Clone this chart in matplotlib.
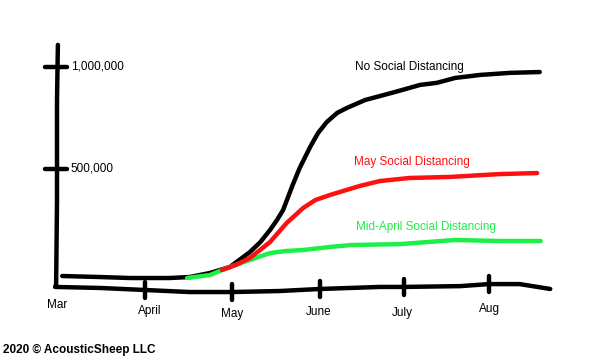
import numpy as np
import matplotlib
matplotlib.use("Agg")
import matplotlib.pyplot as plt

plt.rcParams['font.family'] = ['Liberation Sans', 'DejaVu Sans']

# --- data (x in months after 1 Mar, y in cases) ---
no_sd_x = [0.06, 0.49, 0.84, 1.29, 1.52, 1.75, 1.98, 2.21, 2.33, 2.44, 2.52, 2.59,
           2.70, 2.78, 2.90, 2.99, 3.09, 3.21, 3.32, 3.53, 3.87, 4.16, 4.35,
           4.56, 4.85, 5.19, 5.53]
no_sd_y = [-24500, -29400, -34300, -34300, -29400, -9800, 19600, 93100, 142000,
           201000, 250000, 299000, 422000, 505000, 608000, 676000, 730000,
           775000, 799000, 838000, 877000, 912000, 922000, 946000, 961000,
           971000, 975000]

may_sd_x = [1.89, 2.05, 2.21, 2.44, 2.63, 2.82, 2.96, 3.13, 3.47, 3.70, 4.04,
            4.50, 5.07, 5.50]
may_sd_y = [5000, 30000, 64000, 142000, 235000, 309000, 348000, 373000, 417000,
            441000, 456000, 461000, 475000, 480000]

apr_sd_x = [1.49, 1.75, 1.98, 2.21, 2.44, 2.62, 2.82, 3.13, 3.36, 3.93, 4.56,
            5.07, 5.54]
apr_sd_y = [-34300, -19600, 19600, 54000, 88000, 98000, 103000, 118000, 127000,
            132000, 152000, 147000, 147000]

# hand drawn axes
yaxis_x = [0.01, 0.0, 0.0, -0.01, -0.02]
yaxis_y = [1108000, 838000, 348000, -64000, -78000]
xaxis_x = [-0.02, 0.49, 1.01, 1.52, 2.00, 2.55, 3.01, 3.70, 3.97, 4.62, 4.95,
           5.30, 5.65]
xaxis_y = [-78000, -83000, -93000, -103000, -103000, -98000, -88000, -78000,
           -78000, -74000, -64000, -64000, -88000]

month_ticks = [1.01, 2.00, 3.01, 3.97, 4.95]
month_names = ["Mar", "April", "May", "June", "July", "Aug"]
month_label_x = [0.0, 1.06, 2.01, 3.0, 3.96, 4.95]
month_label_y = [-167000, -196000, -211000, -201000, -206000, -186000]

y_ticks = [1000000, 500000]
y_tick_labels = ["1,000,000", "500,000"]

fig = plt.figure(figsize=(6, 3.6), dpi=100)
ax = fig.add_axes([0, 0, 1, 1])
ax.set_xlim(-0.653, 6.22)
ax.set_ylim(-436000, 1328000)
ax.axis("off")

lw = 3.2
style = dict(lw=lw, solid_capstyle="round", solid_joinstyle="round")
ax.plot(yaxis_x, yaxis_y, color="black", **style)
ax.plot(xaxis_x, xaxis_y, color="black", **style)

# ticks on the y axis
for yt, lab in zip(y_ticks, y_tick_labels):
    ax.plot([-0.14, 0.12], [yt, yt], color="black", **style)
    ax.text(0.16, yt, lab, fontsize=8.5, va="center", ha="left")

# ticks on the x axis
xa = np.interp(month_ticks, xaxis_x, xaxis_y)
for mx, base in zip(month_ticks, xa):
    ax.plot([mx, mx], [base + 40000, base - 40000], color="black", **style)
for name, lx, ly in zip(month_names, month_label_x, month_label_y):
    ax.text(lx, ly, name, fontsize=8.5, ha="center", va="center")

ax.plot(no_sd_x, no_sd_y, color="black", **style)
ax.plot(apr_sd_x, apr_sd_y, color="#1def48", **style)
ax.plot(may_sd_x, may_sd_y, color="#ff1010", **style)

ax.text(3.41, 1000000, "No Social Distancing", fontsize=8.5, color="black", va="center")
ax.text(3.40, 535000, "May Social Distancing", fontsize=8.5, color="#ff1010", va="center")
ax.text(3.42, 216000, "Mid-April Social Distancing", fontsize=8.5, color="#1def48", va="center")

fig.text(0.005, 0.028, "2020 \u00a9 AcousticSheep LLC", fontsize=8.5,
         fontweight="bold", ha="left", va="center")

fig.savefig("out.png", dpi=100)
